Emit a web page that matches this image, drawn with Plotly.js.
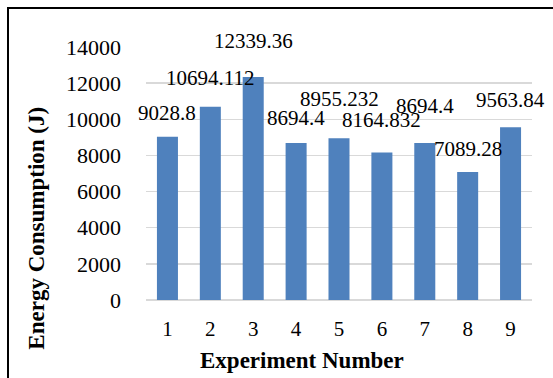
<!DOCTYPE html>
<html>
<head>
<meta charset="utf-8">
<script src="https://cdn.plot.ly/plotly-3.0.1.min.js"></script>
<style>
  html, body { margin: 0; padding: 0; background: #ffffff; overflow: hidden; }
  #chart { width: 553px; height: 378px; }
  #frame {
    position: absolute; left: 7px; top: 7px;
    width: 600px; height: 420px;
    border: 2px solid #000000; pointer-events: none;
  }
</style>
</head>
<body>
<div id="chart"></div>
<div id="frame"></div>
<script>
// Experiment numbers and measured energy per experiment (J)
const experiments = ['1', '2', '3', '4', '5', '6', '7', '8', '9'];
const energy = [9028.8, 10694.112, 12339.36, 8694.4, 8955.232, 8164.832, 8694.4, 7089.28, 9563.84];
const yTicks = [0, 2000, 4000, 6000, 8000, 10000, 12000, 14000];

// Vertical nudge (px) of each value label above its bar
const labelLift = [10, 15, 22, 11, 25, 18, 23, 9, 13];

const serif = "'Liberation Serif', 'Times New Roman', serif";

const trace = {
  type: 'bar',
  x: experiments,
  y: energy,
  marker: { color: '#4F81BD' },
  hoverinfo: 'none'
};

// value labels sit on the category index of each bar
const valueLabels = experiments.map((cat, i) => ({
  x: i,
  y: energy[i],
  xref: 'x',
  yref: 'y',
  text: String(energy[i]),
  showarrow: false,
  xanchor: 'center',
  yanchor: 'bottom',
  yshift: labelLift[i],
  font: { family: serif, size: 21, color: '#000000' }
}));

const layout = {
  width: 553,
  height: 378,
  margin: { l: 146, r: 21, t: 47, b: 78, pad: 0 },
  paper_bgcolor: '#ffffff',
  plot_bgcolor: '#ffffff',
  showlegend: false,
  bargap: 0.51,
  font: { family: serif, size: 21, color: '#000000' },
  xaxis: {
    type: 'category',
    range: [-0.5, experiments.length - 0.5],
    showgrid: false,
    showline: false,
    ticks: '',
    ticklabelstandoff: 14,
    tickfont: { family: serif, size: 21, color: '#000000' }
  },
  yaxis: {
    range: [0, 14000],
    tickvals: yTicks,
    ticktext: yTicks.map(String),
    showgrid: true,
    gridcolor: '#D9D9D9',
    gridwidth: 1.3,
    zeroline: true,
    zerolinecolor: '#D9D9D9',
    zerolinewidth: 1.6,
    showline: false,
    ticks: '',
    ticklabelstandoff: 24,
    tickfont: { family: serif, size: 22, color: '#000000' }
  },
  annotations: valueLabels.concat([
    {
      text: '<b>Experiment Number</b>',
      xref: 'paper', yref: 'paper',
      x: 0.404, y: -0.241,
      xanchor: 'center', yanchor: 'middle',
      showarrow: false,
      font: { family: serif, size: 23, color: '#000000' }
    },
    {
      text: '<b>Energy Consumption (J)</b>',
      xref: 'paper', yref: 'paper',
      x: -0.283, y: 0.285,
      xanchor: 'center', yanchor: 'middle',
      textangle: -90,
      showarrow: false,
      font: { family: serif, size: 23, color: '#000000' }
    }
  ])
};

Plotly.newPlot('chart', [trace], layout, { displayModeBar: false, staticPlot: true });
</script>
</body>
</html>
